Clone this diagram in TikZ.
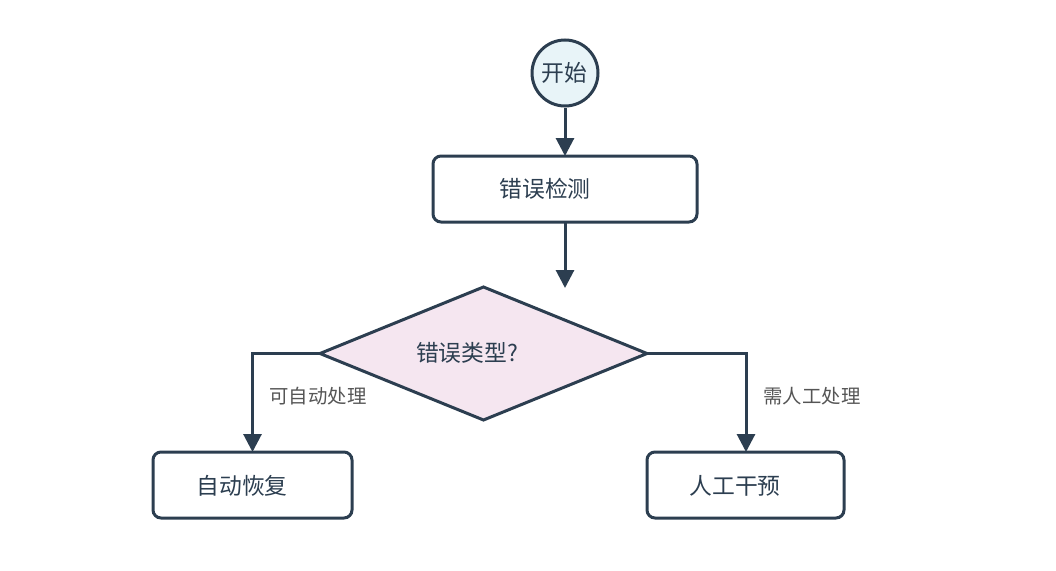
\documentclass[tikz,border=0pt]{standalone}
\usepackage{fontspec}
\newfontfamily\cjk{Noto Sans CJK SC}
\usetikzlibrary{shapes.geometric,arrows.meta}
\definecolor{ink}{HTML}{2C3E50}
\definecolor{startfill}{HTML}{E8F4F8}
\definecolor{decfill}{HTML}{F5E6F0}
\definecolor{lbl}{HTML}{555555}
\begin{document}
\begin{tikzpicture}[x=1pt,y=-1pt,
  shapeline/.style={draw=ink,line width=3pt},
  procbox/.style={shapeline,rounded corners=8pt,fill=white},
  maintext/.style={font=\cjk\fontsize{22.8}{26}\selectfont,text=ink,inner sep=0pt},
  lbltext/.style={font=\cjk\fontsize{19.4}{23}\selectfont,text=lbl,inner sep=0pt},
  flow/.style={draw=ink,line width=3pt,-{Triangle[length=18pt,width=18pt]}}
]
\useasboundingbox (0,0) rectangle (1056,570);
% start
\node[circle,shapeline,fill=startfill,minimum size=66pt,inner sep=0pt] (start) at (565,73) {};
\node[maintext] (starttxt) at (564,73) {开始};
% detect
\draw[procbox] (433,156) rectangle (697,222);
\coordinate (detN) at (565,156);
\coordinate (detS) at (565,222);
\node[maintext] (dettxt) at (545,189) {错误检测};
% decision
\draw[shapeline,fill=decfill,line join=miter] (320,353.5) -- (483.5,287) -- (647,353.5) -- (483.5,420) -- cycle;
\coordinate (decW) at (320,353.5);
\coordinate (decE) at (647,353.5);
\node[maintext] (dectxt) at (467,353) {错误类型?};
% outcome boxes
\draw[procbox] (153,452) rectangle (352,518);
\coordinate (autoN) at (252.5,452);
\node[maintext] (autotxt) at (242,486) {自动恢复};
\draw[procbox] (647,452) rectangle (844,518);
\coordinate (manN) at (746,452);
\node[maintext] (mantxt) at (735,486) {人工干预};
% connectors
\coordinate (decTipEnd) at (565,288);
\draw[flow] (start.south) -- (detN);
\draw[flow] (detS) -- (decTipEnd);
\draw[flow,line join=miter] (decW) -- (decW -| autoN) -- (autoN);
\draw[flow,line join=miter] (decE) -- (decE -| manN) -- (manN);
% labels
\node[lbltext] (lblauto) at (318,396) {可自动处理};
\node[lbltext] (lblman) at (812,396) {需人工处理};
\end{tikzpicture}
\end{document}
